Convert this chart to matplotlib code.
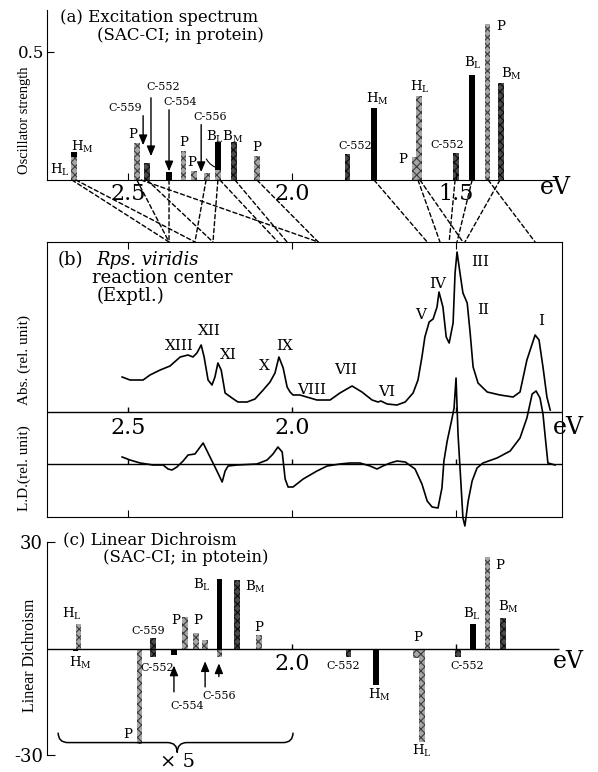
import matplotlib
matplotlib.use("Agg")
import matplotlib.pyplot as plt
from matplotlib.patches import ConnectionPatch, PathPatch
from matplotlib.path import Path

plt.rcParams['font.family'] = ['DejaVu Serif']
plt.rcParams['mathtext.fontset'] = 'dejavuserif'
plt.rcParams['hatch.linewidth'] = 0.8

# (a) SAC-CI excitation spectrum: energy (eV), oscillator strength
exc_ev = [2.665, 2.665, 2.473, 2.442, 2.375, 2.332, 2.299, 2.259, 2.226, 2.226,
          2.177, 2.107, 1.832, 1.750, 1.625, 1.613, 1.500, 1.451, 1.405, 1.363]
exc_f = [0.110, 0.090, 0.145, 0.066, 0.030, 0.113, 0.035, 0.027, 0.148, 0.040,
         0.148, 0.094, 0.100, 0.280, 0.090, 0.330, 0.107, 0.410, 0.610, 0.380]
exc_kind = ['k', 'g', 'g', 'd', 'k', 'g', 'g', 'g', 'k', 'g',
            'd', 'g', 'd', 'k', 'g', 'g', 'd', 'k', 'g', 'd']

# (c) SAC-CI linear dichroism
lin_ev = [2.659, 2.652, 2.466, 2.424, 2.424, 2.360, 2.326, 2.293, 2.265, 2.220, 2.220,
          2.168, 2.101, 1.829, 1.744, 1.622, 1.604, 1.494, 1.448, 1.405, 1.357]
lin_val = [-0.6, 7.0, -26.8, 3.0, -2.5, -1.7, 9.0, 4.5, 2.3, 19.5, -2.5,
           19.2, 3.7, -2.5, -10.2, -2.8, -26.2, -2.5, 6.8, 25.9, 8.7]
lin_kind = ['k', 'g', 'g', 'd', 'd', 'k', 'g', 'g', 'g', 'k', 'g',
            'd', 'g', 'd', 'k', 'g', 'g', 'd', 'k', 'g', 'd']

# correlation lines: calculated state (eV) -> experimental band (eV)
link_calc = [2.671, 2.659, 2.473, 2.460, 2.442, 2.375, 2.262, 2.226, 2.220, 2.174, 2.107,
             1.750, 1.616, 1.610, 1.503, 1.451, 1.402, 1.366]
link_exp = [2.375, 2.296, 2.375, 1.920, 2.241, 2.375, 2.296, 2.241, 2.043, 2.015, 1.920,
            1.588, 1.549, 1.479, 1.521, 1.497, 1.259, 1.473]

# (b) experimental absorption of Rps. viridis RC
abs_ev = [2.518, 2.494, 2.454, 2.433, 2.402, 2.372, 2.341, 2.317, 2.302, 2.290,
          2.277, 2.268, 2.256, 2.244, 2.235, 2.226, 2.216, 2.204, 2.183, 2.165,
          2.137, 2.113, 2.088, 2.067, 2.052, 2.040, 2.027, 2.015, 2.006, 1.997,
          1.976, 1.924, 1.884, 1.854, 1.817, 1.787, 1.756, 1.738, 1.729, 1.710,
          1.680, 1.655, 1.631, 1.616, 1.604, 1.595, 1.582, 1.570, 1.558, 1.552,
          1.540, 1.530, 1.521, 1.509, 1.503, 1.497, 1.488, 1.479, 1.466, 1.457,
          1.448, 1.433, 1.405, 1.366, 1.326, 1.305, 1.284, 1.259, 1.247, 1.235,
          1.223, 1.213]
abs_val = [0.35, 0.32, 0.32, 0.37, 0.42, 0.46, 0.55, 0.57, 0.55, 0.59,
           0.67, 0.55, 0.32, 0.27, 0.35, 0.49, 0.42, 0.19, 0.14, 0.10,
           0.10, 0.13, 0.22, 0.30, 0.39, 0.55, 0.44, 0.25, 0.20, 0.17,
           0.17, 0.12, 0.12, 0.19, 0.26, 0.20, 0.12, 0.10, 0.11, 0.08,
           0.07, 0.10, 0.19, 0.32, 0.55, 0.75, 0.90, 0.93, 1.05, 1.20,
           1.05, 0.75, 0.69, 0.89, 1.39, 1.60, 1.39, 1.19, 1.09, 0.79,
           0.45, 0.29, 0.20, 0.17, 0.15, 0.20, 0.52, 0.77, 0.72, 0.45,
           0.15, 0.02]

# (b) experimental linear dichroism
ldx_ev = [2.518, 2.494, 2.463, 2.424, 2.393, 2.378, 2.366, 2.351, 2.332, 2.317,
          2.296, 2.271, 2.259, 2.244, 2.229, 2.213, 2.204, 2.195, 2.168, 2.107,
          2.076, 2.058, 2.043, 2.030, 2.021, 2.012, 1.997, 1.966, 1.924, 1.893,
          1.854, 1.823, 1.793, 1.762, 1.741, 1.723, 1.701, 1.680, 1.655, 1.625,
          1.604, 1.588, 1.573, 1.555, 1.543, 1.537, 1.527, 1.512, 1.506, 1.500,
          1.494, 1.485, 1.479, 1.473, 1.463, 1.451, 1.436, 1.418, 1.375, 1.335,
          1.305, 1.284, 1.268, 1.256, 1.244, 1.235, 1.229, 1.220, 1.198]
ldx_val = [0.07, 0.04, 0.01, -0.01, -0.01, -0.05, -0.06, -0.03, 0.03, 0.09,
           0.10, 0.21, 0.13, 0.03, -0.07, -0.18, -0.07, -0.02, -0.01, 0.00,
           0.04, 0.10, 0.17, 0.12, -0.15, -0.23, -0.23, -0.15, -0.07, -0.02,
           0.00, 0.01, 0.01, -0.02, -0.05, -0.02, 0.01, 0.03, 0.02, -0.05,
           -0.20, -0.37, -0.43, -0.44, -0.24, 0.03, 0.23, 0.46, 0.56, 0.86,
           0.30, -0.20, -0.54, -0.62, -0.37, -0.17, -0.04, 0.01, 0.06, 0.13,
           0.26, 0.46, 0.70, 0.73, 0.66, 0.50, 0.30, 0.01, -0.01]

band_names = ['I', 'II', 'III', 'IV', 'V', 'VI', 'VII', 'VIII', 'IX', 'X', 'XI', 'XII', 'XIII']
band_ev = [1.241, 1.418, 1.427, 1.555, 1.607, 1.713, 1.838, 1.939, 2.024, 2.085, 2.195, 2.253, 2.345]
band_lab_y = [0.91, 1.02, 1.50, 1.28, 0.97, 0.20, 0.42, 0.22, 0.66, 0.46, 0.57, 0.81, 0.66]

W, H = 598, 772
face = {'g': '#a6a6a6', 'd': '#4a4a4a', 'k': 'black'}
hatch_col = {'g': '#3c3c3c', 'd': '#0c0c0c', 'k': 'black'}
XL = (2.747, 1.177)
BW = 0.016
LD_OFF = -0.52


def rect(l, t, r, b):
    return [l / W, 1 - b / H, (r - l) / W, (b - t) / H]


def ftext(x, y, s, **kw):
    kw.setdefault('va', 'center')
    fig.text(x / W, 1 - y / H, s, **kw)


def draw_bars(ax, xs, ys, kinds):
    for x, y, k in zip(xs, ys, kinds):
        ax.bar(x, y, width=BW, facecolor=face[k], edgecolor=hatch_col[k],
               hatch=None if k == 'k' else 'xxxx', linewidth=0)


fig = plt.figure(figsize=(W / 100, H / 100), dpi=100)
ax_a = fig.add_axes(rect(47, 10, 562, 180))
ax_b = fig.add_axes(rect(47, 242, 562, 517))
ax_c = fig.add_axes(rect(47, 542, 562, 755))

# ---------------- (a)
draw_bars(ax_a, exc_ev, exc_f, exc_kind)
ax_a.set_xlim(*XL)
ax_a.set_ylim(0, 0.664)
for s in ['top', 'right']:
    ax_a.spines[s].set_visible(False)
ax_a.spines['bottom'].set_bounds(XL[0], 1.192)
ax_a.set_yticks([0.5])
ax_a.set_yticklabels(['0.5'], fontsize=12)
ax_a.set_xticks([2.5, 2.0, 1.5])
ax_a.set_xticklabels(['2.5', '2.0', '1.5'], fontsize=16)
ax_a.tick_params(direction='in', length=5, pad=2)
ftext(540, 188, 'eV', fontsize=17)
ftext(25, 120, 'Oscillator strength', rotation=90, ha='center', fontsize=10.5,
      family='Liberation Serif')
ftext(60, 17, '(a) Excitation spectrum', fontsize=12)
ftext(97, 35, '(SAC-CI; in protein)', fontsize=12)

lab = dict(ha='center', va='center', fontsize=9.5)
small = dict(ha='center', va='center', fontsize=8)
for s, x, y in [(r'H$_\mathrm{L}$', 2.707, 0.039), (r'H$_\mathrm{M}$', 2.640, 0.129),
                ('P', 2.485, 0.176), ('P', 2.329, 0.145), ('P', 2.305, 0.068),
                (r'B$_\mathrm{L}$B$_\mathrm{M}$', 2.204, 0.168), ('P', 2.107, 0.125),
                (r'H$_\mathrm{M}$', 1.741, 0.316), ('P', 1.662, 0.082),
                (r'H$_\mathrm{L}$', 1.610, 0.363), (r'B$_\mathrm{L}$', 1.448, 0.457),
                ('P', 1.363, 0.598), (r'B$_\mathrm{M}$', 1.332, 0.414)]:
    ax_a.text(x, y, s, **lab)
for s, x, y in [('C-559', 2.509, 0.281), ('C-552', 2.393, 0.363), ('C-554', 2.341, 0.305),
                ('C-556', 2.250, 0.246), ('C-552', 1.808, 0.133), ('C-552', 1.527, 0.137)]:
    ax_a.text(x, y, s, **small)
arr = dict(arrowstyle='-|>,head_width=0.25,head_length=0.6', color='black', lw=1)
for x, y0, y1 in [(2.454, 0.262, 0.125), (2.430, 0.332, 0.082),
                  (2.375, 0.285, 0.023), (2.277, 0.227, 0.020)]:
    ax_a.annotate('', xy=(x, y1), xytext=(x, y0), arrowprops=arr)
ax_a.annotate('', xy=(2.212, 0.043), xytext=(2.265, 0.092),
              arrowprops=dict(arrowstyle='-', color='black', lw=0.8,
                              connectionstyle='arc3,rad=0.3'))

# ---------------- (b)
ax_b.plot(abs_ev, abs_val, color='black', lw=1.2)
ax_b.plot(ldx_ev, [v + LD_OFF for v in ldx_val], color='black', lw=1.2, clip_on=False)
ax_b.hlines([0, LD_OFF], XL[0], XL[1], color='black', lw=1)
ax_b.set_xlim(*XL)
ax_b.set_ylim(-1.05, 1.70)
ax_b.set_yticks([])
ax_b.set_xticks([2.5, 2.0, 1.5])
ax_b.set_xticklabels([])
ax_b.tick_params(axis='x', direction='in', length=5, top=True)
for t in ax_b.xaxis.get_major_ticks():
    t.tick2line.set_marker(3)
    t.tick2line.set_markersize(5)
ax_b.vlines([2.5, 2.0, 1.5], 0, 0.05, color='black', lw=1)
ax_b.vlines([2.5, 2.0, 1.5], LD_OFF, LD_OFF + 0.05, color='black', lw=1)
for x, s in [(2.5, '2.5'), (2.0, '2.0')]:
    ax_b.text(x, -0.165, s, ha='center', va='center', fontsize=16)
ftext(553, 428, 'eV', fontsize=17)
for s, x, y in zip(band_names, band_ev, band_lab_y):
    ax_b.text(x, y, s, ha='center', va='center', fontsize=11)
ftext(58, 260, '(b)', fontsize=13)
ftext(96, 260, 'Rps. viridis', fontsize=13, style='italic')
ftext(92, 278, 'reaction center', fontsize=13)
ftext(97, 296, '(Exptl.)', fontsize=13)
ftext(24, 360, 'Abs. (rel. unit)', rotation=90, ha='center', fontsize=11,
      family='Liberation Serif')
ftext(24, 468, 'L.D.(rel. unit)', rotation=90, ha='center', fontsize=11,
      family='Liberation Serif')

# correlation lines between (a) and (b)
for e1, e2 in zip(link_calc, link_exp):
    con = ConnectionPatch(xyA=(e1, 0), coordsA=ax_a.transData,
                          xyB=(e2, 1.70), coordsB=ax_b.transData,
                          linestyle=(0, (3, 2)), color='black', lw=1)
    fig.add_artist(con)

# ---------------- (c)
draw_bars(ax_c, lin_ev, lin_val, lin_kind)
ax_c.hlines(0, XL[0], 1.185, color='black', lw=1)
ax_c.vlines([2.0, 1.5], 0, 1.2, color='black', lw=1)
ax_c.set_xlim(*XL)
ax_c.set_ylim(-30, 30)
for s in ['top', 'right', 'bottom']:
    ax_c.spines[s].set_visible(False)
ax_c.set_xticks([])
ax_c.set_yticks([30, -30])
ax_c.set_yticklabels(['30', '-30'], fontsize=13)
ax_c.tick_params(axis='y', direction='in', length=6, pad=3)
ax_c.text(2.0, -4.5, '2.0', ha='center', va='center', fontsize=16)
ftext(553, 662, 'eV', fontsize=17)
ftext(30, 655, 'Linear Dichroism', rotation=90, ha='center', fontsize=11.5,
      family='Liberation Serif')
ftext(63, 540, '(c) Linear Dichroism', fontsize=12)
ftext(103, 558, '(SAC-CI; in ptotein)', fontsize=12)

for s, x, y in [(r'H$_\mathrm{L}$', 2.671, 9.6), (r'H$_\mathrm{M}$', 2.646, -4.2),
                ('P', 2.354, 7.9), ('P', 2.287, 7.9), (r'B$_\mathrm{L}$', 2.274, 17.8),
                (r'B$_\mathrm{M}$', 2.113, 17.2), ('P', 2.101, 5.9), ('P', 2.500, -24.3),
                (r'H$_\mathrm{M}$', 1.735, -13.0), ('P', 1.616, 3.1),
                (r'H$_\mathrm{L}$', 1.604, -28.8), (r'B$_\mathrm{L}$', 1.451, 9.6),
                (r'B$_\mathrm{M}$', 1.341, 11.6), ('P', 1.366, 23.4)]:
    ax_c.text(x, y, s, clip_on=False, **lab)
for s, x, y in [('C-559', 2.439, 4.8), ('C-552', 2.412, -5.6), ('C-554', 2.320, -16.1),
                ('C-556', 2.223, -13.3), ('C-552', 1.845, -4.8), ('C-552', 1.466, -4.8)]:
    ax_c.text(x, y, s, **small)
for x, y0, y1 in [(2.360, -13.0, -4.0), (2.265, -11.6, -2.8), (2.223, -8.7, -3.4)]:
    ax_c.annotate('', xy=(x, y1), xytext=(x, y0), arrowprops=arr)

# brace under the x5 region
x0, xm, x1, d = 2.713, 2.350, 1.997, 0.03
ye, yh, yt = -23.7, -26.5, -29.3
verts = [(x0, ye), (x0, yh), (x0 - d, yh), (xm + d, yh), (xm, yh), (xm, yt),
         (xm, yh), (xm - d, yh), (x1 + d, yh), (x1, yh), (x1, ye)]
codes = [Path.MOVETO, Path.CURVE3, Path.CURVE3, Path.LINETO, Path.CURVE3, Path.CURVE3,
         Path.CURVE3, Path.CURVE3, Path.LINETO, Path.CURVE3, Path.CURVE3]
ax_c.add_patch(PathPatch(Path(verts, codes), fill=False, lw=1.1, clip_on=False))
ftext(177, 762, '× 5', ha='center', fontsize=14)

fig.savefig('out.png', dpi=100)
